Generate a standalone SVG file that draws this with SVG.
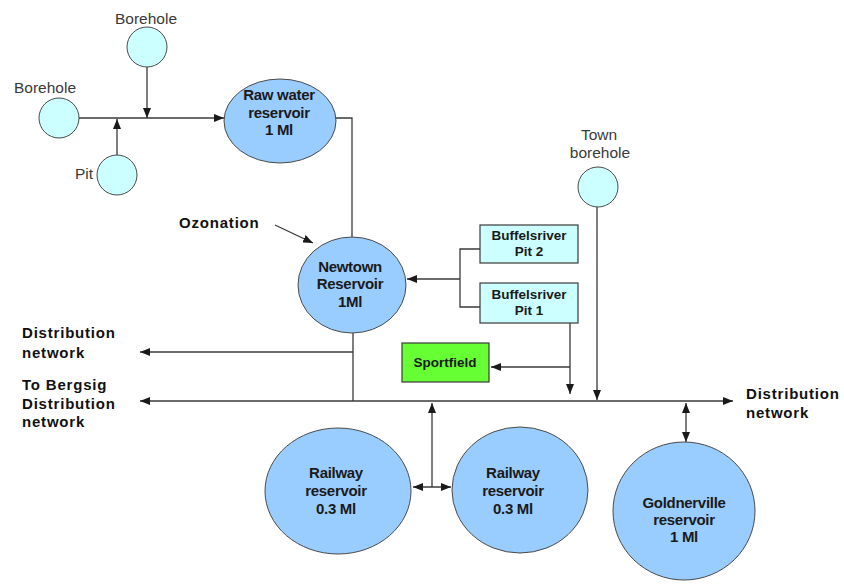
<svg xmlns="http://www.w3.org/2000/svg" width="844" height="586" viewBox="0 0 844 586">
<defs>
<style>
.ln{fill:none;stroke:#3a3a3a;stroke-width:1.3}
.big{fill:#99ccff;stroke:#4a4a4a;stroke-width:1}
.small{fill:#ccffff;stroke:#4a4a4a;stroke-width:1}
.box{fill:#ccffff;stroke:#3a3a3a;stroke-width:1.2}
.green{fill:#66ff33;stroke:#3a3a3a;stroke-width:1.2}
text{font-family:"Liberation Sans",Arial,sans-serif}
.lbl{font-size:15.5px;fill:#3a3a3a}
.nt{font-size:15px;font-weight:bold;fill:#1a1a1a;text-anchor:middle;letter-spacing:-0.3px}
.bt{font-size:13.5px;font-weight:bold;fill:#1a1a1a;text-anchor:middle}
.note{font-size:15px;font-weight:bold;fill:#111;letter-spacing:0.8px}
</style>
<marker id="ar" viewBox="0 0 10 8" refX="10" refY="4" markerWidth="10" markerHeight="8" markerUnits="userSpaceOnUse" orient="auto-start-reverse">
<path d="M0,0 L10,4 L0,8 z" fill="#1a1a1a"/>
</marker>
</defs>
<rect width="844" height="586" fill="#fff"/>

<g id="connectors">
<path class="ln" d="M79,118 H224" marker-end="url(#ar)"/>
<path class="ln" d="M147,67 V118" marker-end="url(#ar)"/>
<path class="ln" d="M117,155 V119" marker-end="url(#ar)"/>
<path class="ln" d="M336,118 H352 V237"/>
<path class="ln" d="M275,225 L313,243" marker-end="url(#ar)"/>
<path class="ln" d="M480,249 H460 V307 H480"/>
<path class="ln" d="M460,279 H407" marker-end="url(#ar)"/>
<path class="ln" d="M570,323 V394" marker-end="url(#ar)"/>
<path class="ln" d="M570,367 H491" marker-end="url(#ar)"/>
<path class="ln" d="M597,207 V400" marker-end="url(#ar)"/>
<path class="ln" d="M353,333 V401"/>
<path class="ln" d="M353,352 H140" marker-end="url(#ar)"/>
<path class="ln" d="M140,401 H733" marker-start="url(#ar)" marker-end="url(#ar)"/>
<path class="ln" d="M432,487 V403" marker-end="url(#ar)"/>
<path class="ln" d="M413,487 H451" marker-start="url(#ar)" marker-end="url(#ar)"/>
<path class="ln" d="M686,403 V442" marker-start="url(#ar)" marker-end="url(#ar)"/>
</g>

<g id="borehole-top">
<circle class="small" cx="147" cy="47" r="20"/>
<text class="lbl" x="146" y="24" text-anchor="middle">Borehole</text>
</g>
<g id="borehole-left">
<circle class="small" cx="59" cy="118" r="20"/>
<text class="lbl" x="45" y="93" text-anchor="middle">Borehole</text>
</g>
<g id="pit">
<circle class="small" cx="117" cy="175" r="20"/>
<text class="lbl" x="93" y="179" text-anchor="end">Pit</text>
</g>
<g id="raw-water">
<ellipse class="big" cx="280" cy="121" rx="56" ry="42"/>
<text class="nt" x="279" y="100">Raw water</text>
<text class="nt" x="279" y="118">reservoir</text>
<text class="nt" x="279" y="135">1 Ml</text>
</g>
<g id="ozonation">
<text class="note" x="179" y="228">Ozonation</text>
</g>
<g id="newtown">
<ellipse class="big" cx="352" cy="285" rx="54" ry="48"/>
<text class="nt" x="350" y="272">Newtown</text>
<text class="nt" x="350" y="289">Reservoir</text>
<text class="nt" x="350" y="307">1Ml</text>
</g>
<g id="town-borehole">
<circle class="small" cx="598" cy="187" r="20"/>
<text class="lbl" x="599" y="140" text-anchor="middle">Town</text>
<text class="lbl" x="600" y="158" text-anchor="middle">borehole</text>
</g>
<g id="buffelsriver-pit2">
<rect class="box" x="480" y="225" width="98" height="38"/>
<text class="bt" x="529" y="240">Buffelsriver</text>
<text class="bt" x="529" y="256">Pit 2</text>
</g>
<g id="buffelsriver-pit1">
<rect class="box" x="480" y="283" width="98" height="40"/>
<text class="bt" x="529" y="299">Buffelsriver</text>
<text class="bt" x="529" y="315">Pit 1</text>
</g>
<g id="sportfield">
<rect class="green" x="402" y="343" width="87" height="39"/>
<text class="bt" x="445" y="367">Sportfield</text>
</g>
<g id="distribution-left">
<text class="note" x="22" y="338">Distribution</text>
<text class="note" x="22" y="358">network</text>
</g>
<g id="bergsig">
<text class="note" x="22" y="390">To Bergsig</text>
<text class="note" x="22" y="409">Distribution</text>
<text class="note" x="22" y="427">network</text>
</g>
<g id="distribution-right">
<text class="note" x="746" y="399">Distribution</text>
<text class="note" x="746" y="418">network</text>
</g>
<g id="railway-1">
<ellipse class="big" cx="338" cy="491" rx="73" ry="63"/>
<text class="nt" x="336" y="478">Railway</text>
<text class="nt" x="336" y="496">reservoir</text>
<text class="nt" x="336" y="514">0.3 Ml</text>
</g>
<g id="railway-2">
<ellipse class="big" cx="520" cy="490" rx="68" ry="63"/>
<text class="nt" x="513" y="478">Railway</text>
<text class="nt" x="513" y="496">reservoir</text>
<text class="nt" x="513" y="514">0.3 Ml</text>
</g>
<g id="goldnerville">
<ellipse class="big" cx="684" cy="511" rx="71" ry="69"/>
<text class="nt" x="684" y="508">Goldnerville</text>
<text class="nt" x="684" y="525">reservoir</text>
<text class="nt" x="684" y="542">1 Ml</text>
</g>
</svg>
